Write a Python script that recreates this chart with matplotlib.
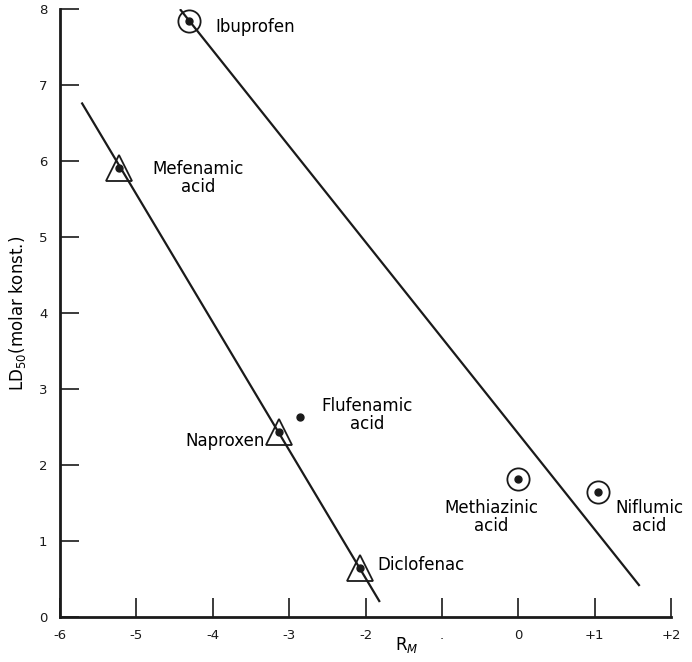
import matplotlib
matplotlib.use("Agg")
import matplotlib.pyplot as plt

# compounds
names_circle = ["Ibuprofen", "Methiazinic\nacid", "Niflumic\nacid"]
rm_circle = [-4.31, 0.0, 1.05]
ld_circle = [7.84, 1.82, 1.64]

names_tri = ["Mefenamic\nacid", "Naproxen", "Diclofenac"]
rm_tri = [-5.23, -3.13, -2.07]
ld_tri = [5.91, 2.43, 0.64]

names_dot = ["Flufenamic\nacid"]
rm_dot = [-2.86]
ld_dot = [2.63]

# regression lines (end points)
line1_x = [-5.71, -1.82]
line1_y = [6.76, 0.21]
line2_x = [-4.42, 1.58]
line2_y = [7.99, 0.42]

xticks = [-6, -5, -4, -3, -2, -1, 0, 1, 2]
xtick_labels = ["-6", "-5", "-4", "-3", "-2", ".", "0", "+1", "+2"]
yticks = [0, 1, 2, 3, 4, 5, 6, 7, 8]

fig = plt.figure(figsize=(6.92, 6.62), dpi=100)
ax = fig.add_axes([0.0867, 0.068, 0.883, 0.918])

ax.plot(line1_x, line1_y, color="#1a1a1a", lw=1.6)
ax.plot(line2_x, line2_y, color="#1a1a1a", lw=1.6)

ax.plot(rm_circle, ld_circle, "o", ms=16, mfc="none", mec="#1a1a1a", mew=1.3)
ax.plot(rm_tri, ld_tri, "^", ms=19, mfc="none", mec="#1a1a1a", mew=1.3)
ax.plot(rm_circle + rm_tri + rm_dot, ld_circle + ld_tri + ld_dot, "o",
        ms=5, color="#1a1a1a")

fs = 12
ax.text(-3.97, 7.76, names_circle[0], fontsize=fs, ha="left", va="center")
ax.text(-0.35, 1.32, names_circle[1], fontsize=fs, ha="center", va="center",
        linespacing=1.0)
ax.text(1.72, 1.32, names_circle[2], fontsize=fs, ha="center", va="center",
        linespacing=1.0)
ax.text(-4.19, 5.78, names_tri[0], fontsize=fs, ha="center", va="center",
        linespacing=1.0)
ax.text(-3.32, 2.32, names_tri[1], fontsize=fs, ha="right", va="center")
ax.text(-1.85, 0.68, names_tri[2], fontsize=fs, ha="left", va="center")
ax.text(-1.98, 2.66, names_dot[0], fontsize=fs, ha="center", va="center",
        linespacing=1.0)

ax.set_xlim(-6, 2)
ax.set_ylim(0, 8)
ax.set_xticks(xticks)
ax.set_xticklabels(xtick_labels)
ax.set_yticks(yticks)
ax.tick_params(direction="in", length=14, width=1.2, labelsize=9.5,
               pad=9, colors="#1a1a1a")
for s in ["top", "right"]:
    ax.spines[s].set_visible(False)
for s in ["left", "bottom"]:
    ax.spines[s].set_linewidth(2)
    ax.spines[s].set_color("#1a1a1a")

ax.set_xlabel("R$_M$", fontsize=12)
ax.xaxis.set_label_coords(0.568, -0.03)
ax.set_ylabel("LD$_{50}$(molar konst.)", fontsize=12)
ax.yaxis.set_label_coords(-0.052, 0.5)

fig.savefig("out.png", dpi=100)
